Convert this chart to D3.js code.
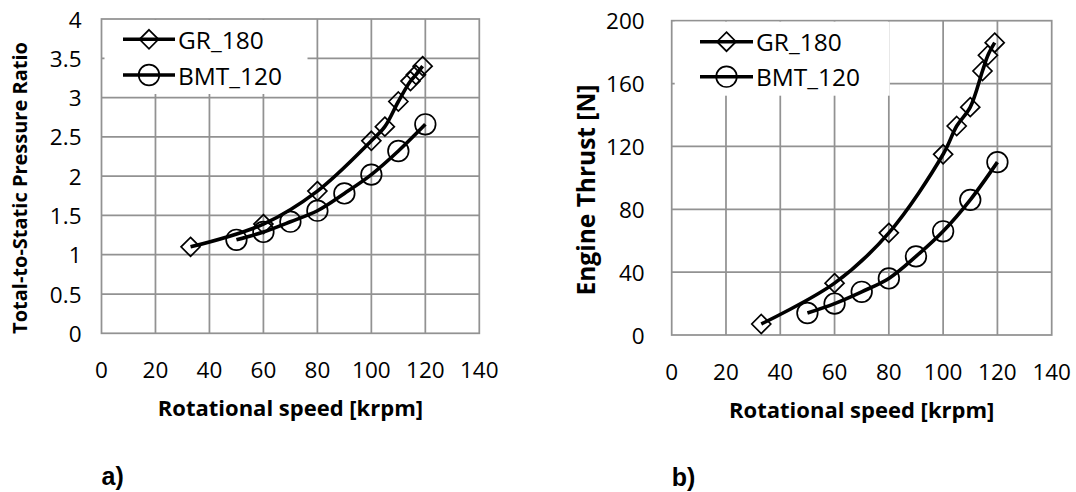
<!DOCTYPE html>
<html>
<head>
<meta charset="utf-8">
<script src="https://cdn.jsdelivr.net/npm/d3@7"></script>
<style>
  html, body { margin: 0; padding: 0; background: #fff; }
  svg { display: block; font-family: "Open Sans", sans-serif; }
  .grid line { stroke: #929292; stroke-width: 1.75; }
  .frame { fill: none; stroke: #929292; stroke-width: 1.75; }
  .tick-label { font-size: 22.5px; fill: #000; }
  .title { font-weight: bold; fill: #000; }
  .curve { fill: none; stroke: #000; stroke-width: 3.6; }
  .marker { fill: none; stroke: #000; stroke-width: 1.7; }
  .legend text { font-size: 24.5px; fill: #000; }
  .panel-tag { font-family: "Liberation Sans", Arial, sans-serif; font-size: 25px; font-weight: bold; }
</style>
</head>
<body>
<svg id="chart" width="1076" height="492"></svg>
<script>
// rotational speed [krpm]
const speedGR = [33, 60, 80, 100, 105, 110, 114.5, 116.5, 119]
const speedBMT = [50, 60, 70, 80, 90, 100, 110, 120]

// panel a) total-to-static pressure ratio
const ratioGR = [1.10, 1.39, 1.81, 2.45, 2.63, 2.95, 3.21, 3.29, 3.40]
const ratioBMT = [1.19, 1.29, 1.42, 1.56, 1.78, 2.02, 2.32, 2.66]

// panel b) engine thrust [N]
const thrustGR = [7, 33, 65, 115, 133, 145, 168, 178, 186]
const thrustBMT = [14, 20, 27.5, 36, 50, 66, 86, 110]

const seriesNames = ['GR_180', 'BMT_120']
const speedTicks = [0, 20, 40, 60, 80, 100, 120, 140]
const ratioTicks = [0, 0.5, 1, 1.5, 2, 2.5, 3, 3.5, 4]
const thrustTicks = [0, 40, 80, 120, 160, 200]

const svg = d3.select('#chart')

function drawPanel(p) {
  let x = d3.scaleLinear().domain([0, 140]).range([p.left, p.right])
  let y = d3.scaleLinear().domain(p.yDomain).range([p.bottom, p.top])
  let g = svg.append('g')

  // gridlines
  let grid = g.append('g').attr('class', 'grid')
  grid.selectAll('.gx').data(speedTicks.slice(1, -1)).enter().append('line')
    .attr('x1', d => x(d)).attr('x2', d => x(d))
    .attr('y1', p.top).attr('y2', p.bottom)
  grid.selectAll('.gy').data(p.yTicks.slice(1, -1)).enter().append('line')
    .attr('x1', p.left).attr('x2', p.right)
    .attr('y1', d => y(d)).attr('y2', d => y(d))
  g.append('rect').attr('class', 'frame')
    .attr('x', p.left).attr('y', p.top)
    .attr('width', p.right - p.left).attr('height', p.bottom - p.top)

  // tick labels
  g.selectAll('.xl').data(speedTicks).enter().append('text')
    .attr('class', 'tick-label')
    .attr('x', d => x(d)).attr('y', p.bottom + 36)
    .attr('text-anchor', 'middle').attr('dominant-baseline', 'central')
    .text(d => d)
  g.selectAll('.yl').data(p.yTicks).enter().append('text')
    .attr('class', 'tick-label')
    .attr('x', p.left - p.yLabelGap).attr('y', d => y(d))
    .attr('text-anchor', 'end').attr('dominant-baseline', 'central')
    .text(d => d)

  // axis titles
  g.append('text').attr('class', 'title').style('font-size', '22px')
    .attr('x', (p.left + p.right) / 2).attr('y', p.bottom + 74)
    .attr('text-anchor', 'middle').attr('dominant-baseline', 'central')
    .text('Rotational speed [krpm]')
  g.append('text').attr('class', 'title').style('font-size', p.yTitleSize)
    .attr('transform', `translate(${p.yTitleX},${p.yTitleY}) rotate(-90)`)
    .attr('text-anchor', 'middle').attr('dominant-baseline', 'central')
    .text(p.yTitle)

  // curves + markers
  let line = d3.line()
    .x(d => x(d[0])).y(d => y(d[1]))
    .curve(d3.curveCatmullRom.alpha(0.5))
  let sets = [d3.zip(speedGR, p.gr), d3.zip(speedBMT, p.bmt)]
  sets.forEach((pts, i) => {
    g.append('path').attr('class', 'curve').attr('d', line(pts))
    drawMarkers(g, pts.map(d => [x(d[0]), y(d[1])]), i)
  })

  // legend
  let lg = g.append('g').attr('class', 'legend')
  lg.append('rect').attr('fill', '#fff')
    .attr('x', p.left + 3).attr('y', p.top + 1)
    .attr('width', p.legend.w).attr('height', p.legend.h)
  seriesNames.forEach((name, i) => {
    let ly = p.legend.y[i]
    lg.append('line').attr('class', 'curve')
      .attr('x1', p.legend.x0).attr('x2', p.legend.x1)
      .attr('y1', ly).attr('y2', ly)
    drawMarkers(lg, [[(p.legend.x0 + p.legend.x1) / 2, ly]], i)
    lg.append('text').attr('x', p.legend.x1 + 3).attr('y', ly)
      .attr('dominant-baseline', 'central').text(name)
  })

  g.append('text').attr('class', 'panel-tag')
    .attr('x', p.left).attr('y', p.tagY).text(p.tag)
}

function drawMarkers(g, pts, kind) {
  if (kind == 0) {
    g.selectAll(null).data(pts).enter().append('path').attr('class', 'marker')
      .attr('d', d => `M${d[0]},${d[1] - 9.5}L${d[0] + 9.5},${d[1]}L${d[0]},${d[1] + 9.5}L${d[0] - 9.5},${d[1]}Z`)
  } else {
    g.selectAll(null).data(pts).enter().append('circle').attr('class', 'marker')
      .attr('cx', d => d[0]).attr('cy', d => d[1]).attr('r', 10.3)
  }
}

drawPanel({
  left: 101.5, right: 479.3, top: 19, bottom: 333.3,
  yDomain: [0, 4], yTicks: ratioTicks, yLabelGap: 20,
  gr: ratioGR, bmt: ratioBMT,
  yTitle: 'Total-to-Static Pressure Ratio', yTitleX: 19, yTitleY: 188, yTitleSize: '20px',
  legend: { w: 203, h: 74, x0: 123, x1: 175, y: [39.3, 75] },
  tag: 'a)', tagY: 485
})

drawPanel({
  left: 671.7, right: 1051.7, top: 20.7, bottom: 335,
  yDomain: [0, 200], yTicks: thrustTicks, yLabelGap: 27,
  gr: thrustGR, bmt: thrustBMT,
  yTitle: 'Engine Thrust [N]', yTitleX: 585, yTitleY: 190, yTitleSize: '24.5px',
  legend: { w: 215, h: 74, x0: 700, x1: 753, y: [41.7, 76.7] },
  tag: 'b)', tagY: 486
})
</script>
</body>
</html>
